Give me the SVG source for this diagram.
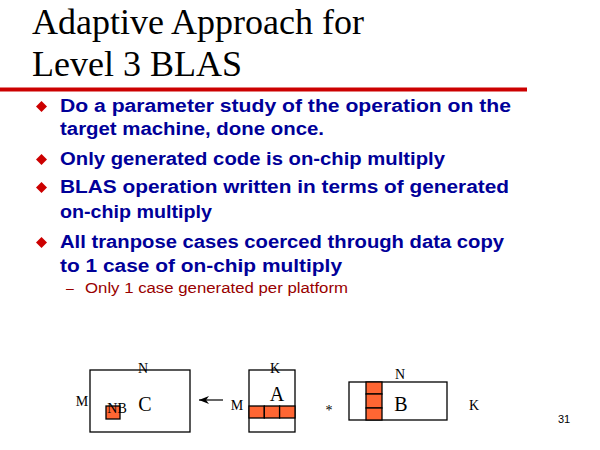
<svg xmlns="http://www.w3.org/2000/svg" width="600" height="450" viewBox="0 0 600 450">
<style>
.title{font-family:"Liberation Serif","Times New Roman",serif;font-size:36px;fill:#000}
.body{font-family:"Liberation Sans",Arial,sans-serif;font-weight:bold;font-size:18px;fill:#000099}
.sub{font-family:"Liberation Sans",Arial,sans-serif;font-size:14px;fill:#990000}
.lbl{font-family:"Liberation Serif","Times New Roman",serif;font-size:14px;fill:#000}
.big{font-family:"Liberation Serif","Times New Roman",serif;font-size:20px;fill:#000}
.mat{fill:#fff;stroke:#000;stroke-width:1.3}
.blk{fill:#FF6633;stroke:#000;stroke-width:1.3}
.bul{fill:#CC0000}
</style>
<defs>
<marker id="ah" markerWidth="10" markerHeight="8" refX="10" refY="4" orient="auto" markerUnits="userSpaceOnUse">
<path d="M0,0 L10,4 L0,8 L3,4 Z" fill="#000"/>
</marker>
<path id="dia" d="M0,-5.5 L5.5,0 L0,5.5 L-5.5,0 Z"/>
</defs>
<rect width="600" height="450" fill="#fff"/>
<g id="title">
<text class="title" x="32" y="34">Adaptive Approach for</text>
<text class="title" x="32" y="76">Level 3 BLAS</text>
<rect x="0" y="87.5" width="527" height="4" fill="#CC0000"/>
</g>
<g id="bullets">
<use href="#dia" class="bul" x="41.5" y="106.5"/>
<use href="#dia" class="bul" x="41.5" y="159.5"/>
<use href="#dia" class="bul" x="41.5" y="187.5"/>
<use href="#dia" class="bul" x="41.5" y="242.5"/>
<text class="body" x="60" y="112" textLength="451" lengthAdjust="spacingAndGlyphs">Do a parameter study of the operation on the</text>
<text class="body" x="60" y="135" textLength="264" lengthAdjust="spacingAndGlyphs">target machine, done once.</text>
<text class="body" x="60" y="165" textLength="385" lengthAdjust="spacingAndGlyphs">Only generated code is on-chip multiply</text>
<text class="body" x="60" y="193" textLength="449" lengthAdjust="spacingAndGlyphs">BLAS operation written in terms of generated</text>
<text class="body" x="60" y="218" textLength="152" lengthAdjust="spacingAndGlyphs">on-chip multiply</text>
<text class="body" x="60" y="248" textLength="444" lengthAdjust="spacingAndGlyphs">All tranpose cases coerced through data copy</text>
<text class="body" x="60" y="272" textLength="282" lengthAdjust="spacingAndGlyphs">to 1 case of on-chip multiply</text>
<text class="sub" x="66" y="293">–</text>
<text class="sub" x="85" y="293" textLength="263" lengthAdjust="spacingAndGlyphs">Only 1 case generated per platform</text>
</g>
<g id="matC">
<rect class="mat" x="90" y="370" width="100" height="62"/>
<rect class="blk" x="106" y="406" width="14" height="13"/>
<text class="lbl" x="143" y="373" text-anchor="middle">N</text>
<text class="lbl" x="82" y="406" text-anchor="middle">M</text>
<text class="lbl" x="117" y="413" text-anchor="middle" font-size="13">NB</text>
<text class="big" x="145" y="411" text-anchor="middle" font-size="18">C</text>
</g>
<g id="connectors">
<line x1="223" y1="400" x2="199" y2="400" stroke="#000" stroke-width="1.2" marker-end="url(#ah)"/>
</g>
<g id="matA">
<rect class="mat" x="249" y="370" width="46" height="62"/>
<rect class="blk" x="249" y="406" width="15.3" height="12"/>
<rect class="blk" x="264.3" y="406" width="15.3" height="12"/>
<rect class="blk" x="279.6" y="406" width="15.4" height="12"/>
<text class="lbl" x="275" y="373" text-anchor="middle">K</text>
<text class="big" x="277" y="401" text-anchor="middle">A</text>
<text class="lbl" x="237" y="410" text-anchor="middle">M</text>
</g>
<g id="op">
<text class="lbl" x="329" y="415" text-anchor="middle" font-size="22">*</text>
</g>
<g id="matB">
<rect class="mat" x="349" y="382" width="98" height="38"/>
<rect class="blk" x="366" y="382" width="16" height="12"/>
<rect class="blk" x="366" y="394" width="16" height="14"/>
<rect class="blk" x="366" y="408" width="16" height="12"/>
<text class="lbl" x="400" y="379" text-anchor="middle">N</text>
<text class="big" x="401" y="411" text-anchor="middle">B</text>
<text class="lbl" x="474" y="410" text-anchor="middle">K</text>
</g>
<text x="564" y="423" text-anchor="middle" font-family="'Liberation Sans',Arial,sans-serif" font-size="11" fill="#000">31</text>
</svg>
